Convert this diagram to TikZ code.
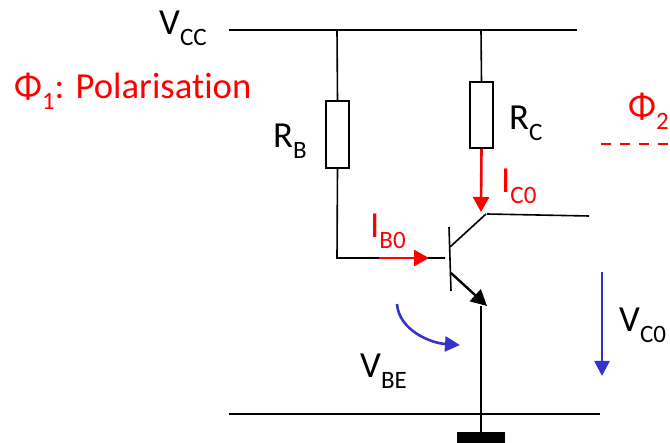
\documentclass[tikz,border=0pt]{standalone}
\usepackage{fontspec}
\setmainfont{Carlito}
\usetikzlibrary{arrows.meta}
\definecolor{bluearr}{RGB}{51,51,204}
\newcommand{\sbs}[1]{\raisebox{-0.28em}{\fontsize{25}{25}\selectfont #1}}
\tikzset{
  x=1pt,y=-1pt,
  wire/.style={draw=black,line width=1.6pt},
  thick wire/.style={draw=black,line width=2pt},
  res/.style={draw=black,line width=1.6pt,fill=white,rectangle,inner sep=0pt,minimum width=23pt},
  lbl/.style={inner sep=0pt,anchor=base west,font=\fontsize{36.7}{37}\selectfont},
  redlbl/.style={lbl,text=red},
  redarr/.style={draw=red,line width=2.6pt,-{Triangle[length=15pt,width=16pt]}},
  bluearrow/.style={draw=bluearr,line width=2.6pt,-{Triangle[length=15pt,width=15pt]}},
  pt/.style={coordinate}
}
\begin{document}
\begin{tikzpicture}
\useasboundingbox (0,0) rectangle (670,443);
% coordinates
\coordinate (vl) at (229,30); \coordinate (vr) at (577,30);
\coordinate (tb) at (337,30); \coordinate (tc) at (481,30);
\coordinate (bj) at (337,258); \coordinate (be) at (445,258);
\coordinate (barA) at (449,227); \coordinate (barD) at (451,291);
\coordinate (cs) at (450,247); \coordinate (ce) at (486,214);
\coordinate (cw) at (589,216); \coordinate (cw0) at (487,214);
\coordinate (es) at (451,273); \coordinate (ee) at (487,306);
\coordinate (gt) at (481,306); \coordinate (gb) at (481,433);
\coordinate (gl) at (229,414); \coordinate (gr) at (600,414);
\coordinate (ib0) at (379,258); \coordinate (ib1) at (429,258);
\coordinate (ic1) at (481,212);
\coordinate (vc0) at (602,272); \coordinate (vc1) at (602,376);
\coordinate (vb0) at (397,304); \coordinate (vb1) at (460,345);
\coordinate (d0) at (601,144); \coordinate (d1) at (670,144);
% resistors
\node[res,minimum height=67pt] (RB) at (337.5,134.5) {};
\node[res,minimum height=66pt] (RC) at (481.5,115) {};
% wires
\draw[wire] (vl) -- (vr);
\draw[wire] (tb) -- (RB.north);
\draw[wire] (tc) -- (RC.north);
\draw[wire] (RB.south) -- (bj) -- (be);
\draw[wire] (barA) -- (barD);
\draw[wire] (cs) -- (ce);
\draw[wire] (cw0) -- (cw);
\draw[wire] (gl) -- (gr);
\draw[thick wire] (gt) -- (gb);
\draw[draw=black,line width=2.4pt,-{Triangle[length=16pt,width=16pt]}] (es) -- (ee);
\node[fill=black,inner sep=0pt,minimum width=48pt,minimum height=11pt] (gnd) at (481,437.5) {};
% arrows
\draw[redarr] (RC.south) -- (ic1);
\draw[redarr] (ib0) -- (ib1);
\draw[bluearrow] (vc0) -- (vc1);
\draw[bluearrow] (vb0) .. controls (399,330) and (430,343) .. (vb1);
\draw[draw=red,line width=2.4pt,dash pattern=on 10pt off 9pt] (d0) -- (d1);
% labels
\node[lbl] (tvcc) at (159,35) {V\sbs{CC}};
\node[lbl] (trb) at (273,148) {R\sbs{B}};
\node[lbl] (trc) at (509,130) {R\sbs{C}};
\node[lbl] (tvbe) at (360,378) {V\sbs{BE}};
\node[lbl] (tvc0) at (619,332) {V\sbs{C0}};
\node[redlbl] (tib) at (370,238) {I\sbs{B0}};
\node[redlbl] (tic) at (501,193) {I\sbs{C0}};
\node[redlbl] (tphi1) at (14,99) {Φ\sbs{1}: Polarisat\kern0pt ion};
\node[redlbl] (tphi2) at (628,119) {Φ\sbs{2}};
\end{tikzpicture}
\end{document}
